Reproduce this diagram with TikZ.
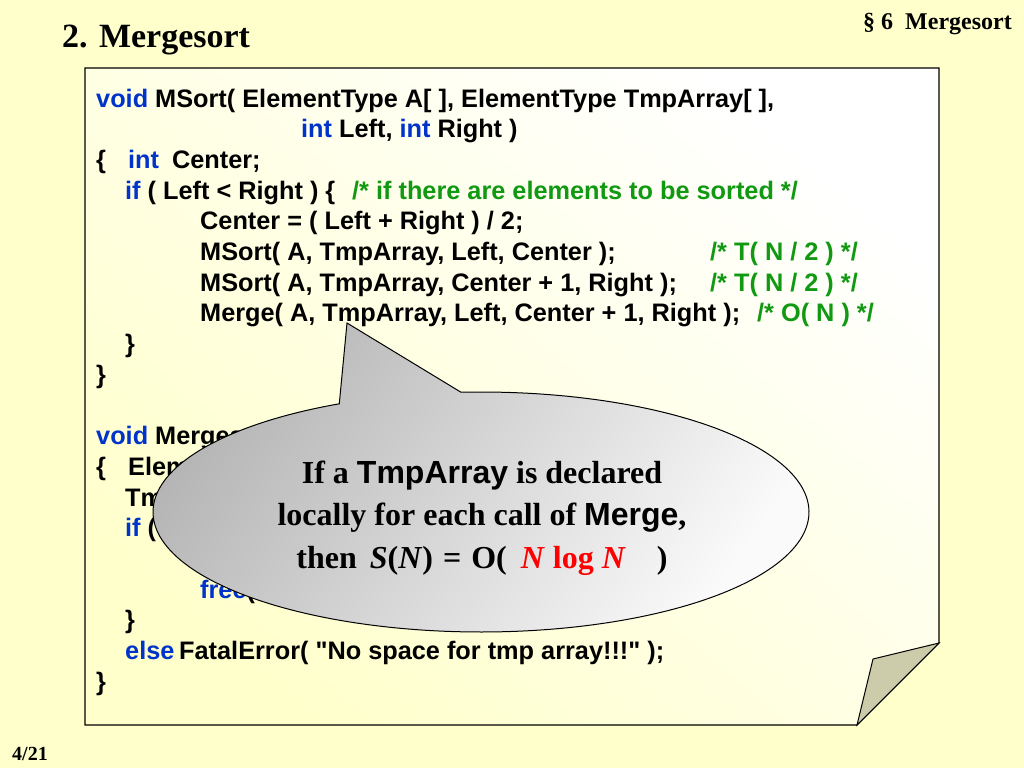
\documentclass[tikz,border=0pt]{standalone}
\usepackage{fontspec}
\setmainfont{Liberation Serif}
\newfontfamily\codefont{Liberation Sans}
\definecolor{bg}{HTML}{FFFFCC}
\definecolor{kwblue}{HTML}{0033CC}
\definecolor{cmgreen}{HTML}{119911}
\definecolor{foldc}{HTML}{CCCCAA}
\newcommand\kw[1]{\textcolor{kwblue}{#1}}
\begin{document}
\begin{tikzpicture}[x=1pt,y=-1pt,
  code/.style={anchor=base west, inner sep=0pt, font=\codefont\bfseries\fontsize{25.3}{30}\selectfont},
  cmt/.style={code, text=cmgreen},
  plain/.style={inner sep=0pt, font=\bfseries}]
\fill[bg] (0,0) rectangle (1024,768);
\useasboundingbox (0,0) rectangle (1024,768);
% paper
\shade[top color=white, bottom color=bg, shading angle=-40]
  (85,68) -- (939,68) -- (939,643) -- (857,725) -- (85,725) -- cycle;
\draw[line width=1.2pt, line join=miter] (85,68) -- (939,68) -- (939,643) -- (857,725) -- (85,725) -- cycle;
\filldraw[fill=foldc, line width=1pt, line join=miter] (939,643) -- (873,659) -- (857,725) -- cycle;
% titles
\node[plain, anchor=base west, font=\bfseries\fontsize{34}{40}\selectfont] (title) at (62,48) {2. Mergesort};
\node[plain, anchor=base east, font=\bfseries\fontsize{24}{28}\selectfont] (sec) at (1012,30) {§ 6\ \ Mergesort};
\node[plain, anchor=base west, font=\bfseries\fontsize{20}{24}\selectfont] (pg) at (12,760) {4/21};
% code
\node[code] (l1) at (96,107) {\kw{void} MSort( ElementType A[ ], ElementType TmpArray[ ],};
\node[code] (l2) at (301,137.7) {\kw{int} Left, \kw{int} Right )};
\node[code] (l3a) at (96,168.4) {\{};
\node[code] (l3b) at (128,168.4) {\kw{int}\hspace{13pt}Center;};
\node[code] (l4) at (125,199.1) {\kw{if} ( Left < Right ) \{};
\node[cmt] (c4) at (352,199.1) {/* if there are elements to be sorted */};
\node[code] (l5) at (200,229.8) {Center = ( Left + Right ) / 2;};
\node[code] (l6) at (200,260.5) {MSort( A, TmpArray, Left, Center );};
\node[cmt] (c6) at (710,260.5) {/* T( N / 2 ) */};
\node[code] (l7) at (200,291.2) {MSort( A, TmpArray, Center + 1, Right );};
\node[cmt] (c7) at (710,291.2) {/* T( N / 2 ) */};
\node[code] (l8) at (200,321.9) {Merge( A, TmpArray, Left, Center + 1, Right );};
\node[cmt] (c8) at (757,321.9) {/* O( N ) */};
\node[code] (l9) at (125,352.6) {\}};
\node[code] (l10) at (96,383.3) {\}};
\node[code] (l12) at (96,444.7) {\kw{void} Mergesort(};
\node[code] (l13a) at (96,475.4) {\{};
\node[code] (l13b) at (128,475.4) {ElementType};
\node[code] (l14) at (125,506.1) {TmpArray};
\node[code] (l15) at (125,536.8) {\kw{if} ( TmpArray};
\node[code] (l17) at (200,598.2) {\kw{free}( TmpArray );};
\node[code] (l18) at (125,628.9) {\}};
\node[code] (l19a) at (125,659.6) {\kw{else}};
\node[code] (l19b) at (179,659.6) {FatalError( "No space for tmp array!!!" );};
\node[code] (l20) at (96,690.3) {\}};
% callout
\draw[line width=1pt, top color=gray!58, bottom color=gray!4, shading angle=55]
  (347,323) -- plot[domain=266.5:604.4, samples=200] ({481+328*cos(\x)},{512+120*sin(\x)}) -- cycle;
\node[align=center, inner sep=0pt, font=\bfseries\fontsize{32}{42.5}\selectfont] (note) at (482,518)
  {If a {\codefont TmpArray} is declared\\
   locally for each call of {\codefont Merge},\\
   then\hspace{13pt}\textit{S}(\textit{N})\hspace{10pt}=\hspace{10pt}O(\hspace{14pt}\textcolor{red}{\textit{N} log \textit{N}}\hspace{31pt})};
\end{tikzpicture}
\end{document}
